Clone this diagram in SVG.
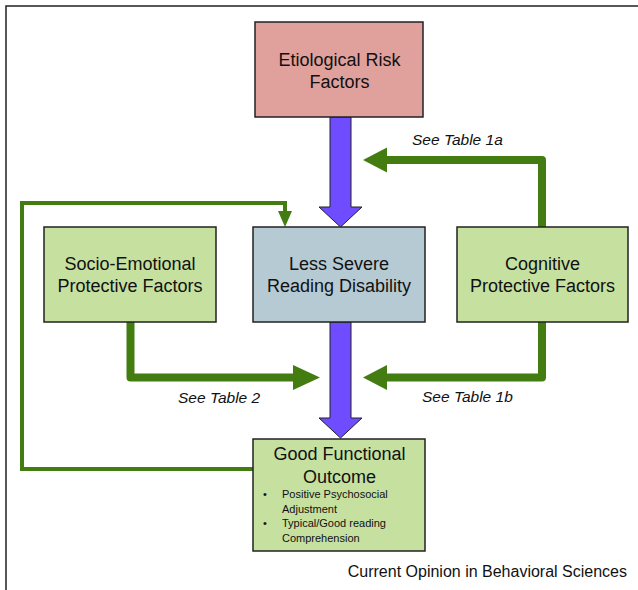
<svg xmlns="http://www.w3.org/2000/svg" width="638" height="590" viewBox="0 0 638 590">
<style>
.box{stroke:#222;stroke-width:1.5}
.t{font-family:"Liberation Sans",Arial,sans-serif;font-size:18px;fill:#111;text-anchor:middle}
.s{font-family:"Liberation Sans",Arial,sans-serif;font-size:11px;fill:#111}
.i{font-family:"Liberation Sans",Arial,sans-serif;font-size:15.5px;font-style:italic;fill:#111}
.g{fill:none;stroke:#437D12;stroke-width:8;stroke-linejoin:round}
.gh{fill:#437D12}
.b{fill:#6F4CFF;stroke:#222;stroke-width:1}
</style>
<rect width="638" height="590" fill="#fff"/>
<path d="M6,590 V6 H638" fill="none" stroke="#222" stroke-width="1.5"/>
<g id="connectors">
<path d="M253,469 H22 V203 H285 V212" fill="none" stroke="#437D12" stroke-width="4"/>
<polygon class="gh" points="285,227 278,211 292,211"/>
<path class="g" d="M542,227 V160 H385"/>
<polygon class="gh" points="363,160 387,147.5 387,172.5"/>
<path class="g" d="M542,322 V377.5 H385"/>
<polygon class="gh" points="363,377.5 387,365 387,390"/>
<path class="g" d="M130.5,322 V377.5 H296"/>
<polygon class="gh" points="320,377.5 293,365 293,390"/>
<polygon class="b" points="330,117 351,117 351,207 362,207 340.5,227 319,207 330,207"/>
<polygon class="b" points="330,322 351,322 351,418 362,418 340.5,438 319,418 330,418"/>
</g>
<g id="etiological">
<rect class="box" x="255" y="22" width="168" height="95" fill="#E0A09C"/>
<text class="t" x="339.5" y="66">Etiological Risk</text>
<text class="t" x="339.5" y="88">Factors</text>
</g>
<g id="less-severe">
<rect class="box" x="253" y="227" width="172" height="95" fill="#B6CAD3"/>
<text class="t" x="339" y="270">Less Severe</text>
<text class="t" x="339" y="292">Reading Disability</text>
</g>
<g id="socio">
<rect class="box" x="44" y="227" width="172" height="95" fill="#C6E0A0"/>
<text class="t" x="130" y="270">Socio-Emotional</text>
<text class="t" x="130" y="292">Protective Factors</text>
</g>
<g id="cognitive">
<rect class="box" x="457" y="227" width="171" height="95" fill="#C6E0A0"/>
<text class="t" x="542.5" y="270">Cognitive</text>
<text class="t" x="542.5" y="292">Protective Factors</text>
</g>
<g id="outcome">
<rect class="box" x="253" y="439" width="172" height="112" fill="#C6E0A0"/>
<text class="t" x="339.5" y="460">Good Functional</text>
<text class="t" x="339.5" y="483">Outcome</text>
<text class="s" x="263" y="498">•</text>
<text class="s" x="282" y="498">Positive Psychosocial</text>
<text class="s" x="282" y="513">Adjustment</text>
<text class="s" x="263" y="527">•</text>
<text class="s" x="282" y="527">Typical/Good reading</text>
<text class="s" x="282" y="542">Comprehension</text>
</g>
<g id="labels">
<text class="i" x="412" y="145">See Table 1a</text>
<text class="i" x="178" y="403">See Table 2</text>
<text class="i" x="422" y="402">See Table 1b</text>
<text x="627" y="577" font-family="Liberation Sans, Arial, sans-serif" font-size="16" fill="#111" text-anchor="end">Current Opinion in Behavioral Sciences</text>
</g>
</svg>
